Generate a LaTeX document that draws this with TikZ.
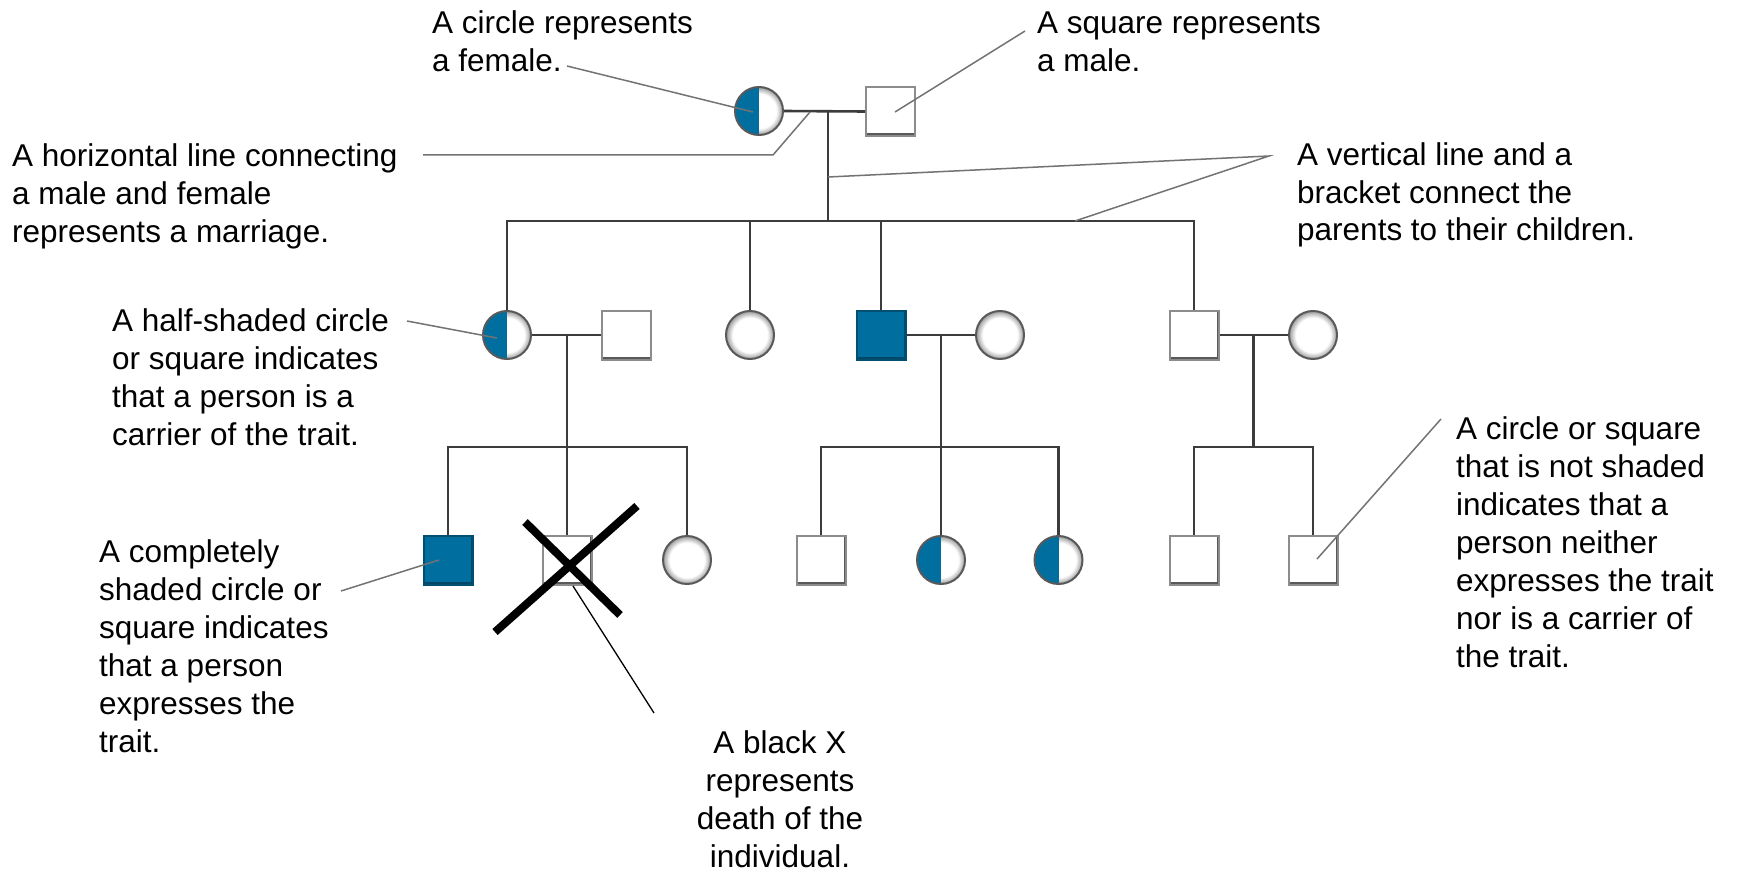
\documentclass[tikz,border=0pt]{standalone}
\usepackage{fontspec}
\setmainfont{Liberation Sans}

\definecolor{trait}{RGB}{0,111,160}
\definecolor{pedline}{RGB}{60,60,60}
\definecolor{callout}{RGB}{115,115,115}

% soft grey rim for the circles
\pgfdeclareradialshading{ring}{\pgfpoint{0bp}{0bp}}{%
  color(0bp)=(white); color(18bp)=(white); color(25bp)=(black!40); color(50bp)=(black!40)}

\begin{document}
\begin{tikzpicture}[x=1pt,y=-1pt,
  ped/.style={draw=pedline, line width=2.6pt},
  callout/.style={draw=callout, line width=1.5pt},
  person/.style={minimum size=49pt, inner sep=0pt, line width=2pt},
  boxshadow/.style={path picture={
      \draw[#1, line width=5pt] (path picture bounding box.south west) -- (path picture bounding box.south east);
      \draw[#1, line width=3pt] (path picture bounding box.south east) -- (path picture bounding box.north east);}},
  male/.style={person, rectangle, fill=white, draw=black!45, boxshadow=black!65},
  affected/.style={person, rectangle, fill=trait, draw=trait!70!black, boxshadow=trait!65!black},
  female/.style={person, circle, minimum size=48pt, shade, shading=ring, draw=black!65},
  carrier/.style={female, path picture={
      \fill[trait] (path picture bounding box.south west) rectangle (path picture bounding box.north);}},
  note/.style={anchor=base west, inner sep=0pt, font=\fontsize{31.5}{38}\selectfont},
]
\useasboundingbox[fill=white] (0,0) rectangle (1738,872);

% ---- first generation
\node[carrier] (f1) at (759,111) {};
\node[male]    (m1) at (890.5,111.5) {};

% ---- second generation
\node[carrier]  (f2a) at (507,335) {};
\node[male]     (m2a) at (626.5,335) {};
\node[female]   (f2b) at (750,335) {};
\node[affected] (m2b) at (881,335) {};
\node[female]   (f2c) at (1000,335) {};
\node[male]     (m2c) at (1194,335) {};
\node[female]   (f2d) at (1313,335) {};

% ---- third generation
\node[affected] (s1) at (448,560) {};
\node[male]     (s2) at (567,560) {};
\node[female]   (s3) at (687,560) {};
\node[male]     (s4) at (821,560) {};
\node[carrier]  (s5) at (941,560) {};
\node[carrier]  (s6) at (1058.5,560) {};
\node[male]     (s7) at (1194,560) {};
\node[male]     (s8) at (1313,560) {};

% ---- marriages, descent lines and sibling brackets
\coordinate (j1) at (828,112);
\coordinate (k1) at (828,221);
\draw[ped] (f1.east) -- (m1.west);
\draw[ped] (j1) -- (k1);
\draw[ped] (f2a.north) |- (k1) -| (m2c.north);
\draw[ped] (f2b.north) -- (f2b.north |- k1);
\draw[ped] (m2b.north) -- (m2b.north |- k1);

\coordinate (j2a) at (567,335);
\coordinate (k2a) at (567,447);
\draw[ped] (f2a.east) -- (m2a.west);
\draw[ped] (j2a) -- (s2.north);
\draw[ped] (s1.north) |- (k2a) -| (s3.north);

\coordinate (j2b) at (941,335);
\coordinate (k2b) at (941,447);
\draw[ped] (m2b.east) -- (f2c.west);
\draw[ped] (j2b) -- (s5.north);
\draw[ped] (s4.north) |- (k2b) -| (s6.north);

\coordinate (j2c) at (1253.5,335);
\coordinate (k2c) at (1253.5,447);
\draw[ped] (m2c.east) -- (f2d.west);
\draw[ped] (j2c) -- (k2c);
\draw[ped] (s7.north) |- (k2c) -| (s8.north);

% ---- death mark
\draw[black, line width=8pt] (525,522) -- (620,615);
\draw[black, line width=8pt] (495,632) -- (637,506);

% ---- explanatory notes
\node[note] (t1) at (432,34) {\begin{tabular}[t]{@{}l@{}}A circle represents\\a female.\end{tabular}};
\node[note] (t2) at (1037,34) {\begin{tabular}[t]{@{}l@{}}A square represents\\a male.\end{tabular}};
\node[note] (t3) at (12,167) {\begin{tabular}[t]{@{}l@{}}A horizontal line connecting\\a male and female\\represents a marriage.\end{tabular}};
\node[note] (t4) at (1297,165) {\begin{tabular}[t]{@{}l@{}}A vertical line and a\\bracket connect the\\parents to their children.\end{tabular}};
\node[note] (t5) at (112,331) {\begin{tabular}[t]{@{}l@{}}A half-shaded circle\\or square indicates\\that a person is a\\carrier of the trait.\end{tabular}};
\node[note] (t6) at (99,562) {\begin{tabular}[t]{@{}l@{}}A completely\\shaded circle or\\square indicates\\that a person\\expresses the\\trait.\end{tabular}};
\node[note, anchor=base] (t7) at (780,753) {\begin{tabular}[t]{@{}c@{}}A black X\\represents\\death of the\\individual.\end{tabular}};
\node[note] (t8) at (1456,439) {\begin{tabular}[t]{@{}l@{}}A circle or square\\that is not shaded\\indicates that a\\person neither\\expresses the trait\\nor is a carrier of\\the trait.\end{tabular}};

% ---- pointer lines
\coordinate (c1a) at (567,66);   \coordinate (c1b) at (753,112);
\coordinate (c2a) at (1025,31);  \coordinate (c2b) at (895,112);
\coordinate (c3a) at (423,155);  \coordinate (c3k) at (773,155); \coordinate (c3b) at (810,112);
\coordinate (c4a) at (1269,156); \coordinate (c4b) at (828,177); \coordinate (c4c) at (1075,221);
\coordinate (c5a) at (407,321);  \coordinate (c5b) at (497,338);
\coordinate (c6a) at (341,591);  \coordinate (c6b) at (439,560);
\coordinate (c7a) at (573,586);  \coordinate (c7b) at (654,713);
\coordinate (c8a) at (1441,419); \coordinate (c8b) at (1317,559);

\draw[callout] (c1a) -- (c1b);
\draw[callout] (c2a) -- (c2b);
\draw[callout] (c3a) -- (c3k) -- (c3b);
\draw[callout] (c4b) -- (c4a) -- (c4c);
\draw[callout] (c5a) -- (c5b);
\draw[callout] (c6a) -- (c6b);
\draw[black, line width=1.3pt] (c7a) -- (c7b);
\draw[callout] (c8a) -- (c8b);
\end{tikzpicture}
\end{document}
